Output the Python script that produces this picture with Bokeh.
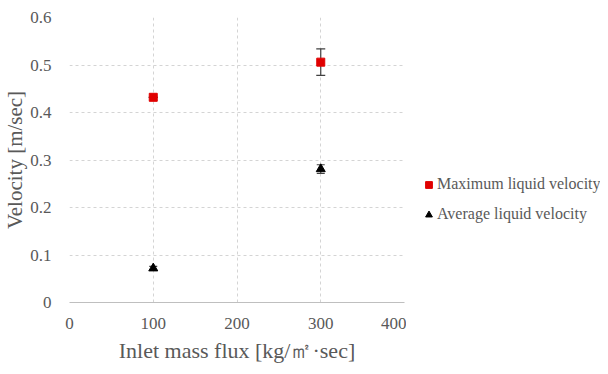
from bokeh.plotting import figure
from bokeh.layouts import row
from bokeh.models import ColumnDataSource, Whisker, TeeHead, FixedTicker, Legend, LegendItem, Range1d
from bokeh.embed import file_html
from bokeh.resources import INLINE

x_flux = [100, 300]
max_vel = [0.432, 0.506]
max_err = [0.0, 0.028]
avg_vel = [0.072, 0.281]
avg_err = [0.004, 0.009]
x_ticks = [0, 100, 200, 300, 400]
y_ticks = [0, 0.1, 0.2, 0.3, 0.4, 0.5, 0.6]
series_labels = ["Maximum liquid velocity", "Average liquid velocity"]

FONT = "Liberation Serif"
GRAY = "#595959"
RED = "#e00000"

p = figure(width=406, height=366, output_backend="svg", toolbar_location=None,
           x_range=Range1d(0, 400), y_range=Range1d(0, 0.6),
           min_border_left=68, min_border_right=2, min_border_top=17, min_border_bottom=64)
p.outline_line_color = None

src_max = ColumnDataSource(dict(x=x_flux, y=max_vel,
                                lo=[v - e for v, e in zip(max_vel, max_err)],
                                hi=[v + e for v, e in zip(max_vel, max_err)]))
src_avg = ColumnDataSource(dict(x=x_flux, y=avg_vel,
                                lo=[v - e for v, e in zip(avg_vel, avg_err)],
                                hi=[v + e for v, e in zip(avg_vel, avg_err)]))

for src, hs in ((src_max, 9), (src_avg, 8)):
    w = Whisker(source=src, base="x", upper="hi", lower="lo", line_color="#404040", line_width=1.2,
                upper_head=TeeHead(size=hs, line_color="#404040", line_width=1.2),
                lower_head=TeeHead(size=hs, line_color="#404040", line_width=1.2))
    p.add_layout(w)

p.scatter("x", "y", source=src_max, marker="square", size=8, fill_color=RED, line_color=RED)
p.scatter("x", "y", source=src_avg, marker="triangle", size=9, fill_color="black", line_color="black")

p.xaxis.ticker = FixedTicker(ticks=x_ticks)
p.yaxis.ticker = FixedTicker(ticks=y_ticks)
p.yaxis.major_label_overrides = {0: "0"}

for ax in (p.xaxis[0], p.yaxis[0]):
    ax.major_tick_line_color = None
    ax.minor_tick_line_color = None
    ax.major_label_text_font = FONT
    ax.major_label_text_font_size = "17px"
    ax.major_label_text_color = GRAY
    ax.axis_label_text_font = FONT
    ax.axis_label_text_font_style = "normal"
    ax.axis_label_text_color = GRAY

p.xaxis.axis_label_text_font_size = "22px"
p.yaxis.axis_label_text_font_size = "21px"
p.xaxis.axis_line_color = "#bfbfbf"
p.yaxis.axis_line_color = None
p.xaxis.axis_label = "Inlet mass flux [kg/㎡·sec]"
p.yaxis.axis_label = "Velocity [m/sec]"
p.xaxis.major_label_standoff = 9
p.yaxis.major_label_standoff = 12
p.xaxis.axis_label_standoff = 6
p.yaxis.axis_label_standoff = 0

p.xgrid.grid_line_color = "#d4d4d4"
p.ygrid.grid_line_color = "#d4d4d4"
p.xgrid.grid_line_dash = "3 3"
p.ygrid.grid_line_dash = "3 3"

# legend panel (proxy renderers share the data sources but lie outside this panel's ranges)
p2 = figure(width=194, height=366, output_backend="svg", toolbar_location=None,
            x_range=Range1d(0, 1), y_range=Range1d(0, 1),
            min_border=0)
p2.outline_line_color = None
p2.axis.visible = False
p2.grid.visible = False
l1 = p2.scatter("x", "y", source=src_max, marker="square", size=8, fill_color=RED, line_color=RED)
l2 = p2.scatter("x", "y", source=src_avg, marker="triangle", size=8, fill_color="black", line_color="black")

legend = Legend(items=[LegendItem(label=series_labels[0], renderers=[l1]),
                       LegendItem(label=series_labels[1], renderers=[l2])],
                location=(14, 79), background_fill_alpha=0, border_line_color=None,
                label_text_font=FONT, label_text_font_size="16px", label_text_color=GRAY,
                glyph_width=17, glyph_height=17, label_standoff=0, spacing=12, padding=0, margin=0)
p2.add_layout(legend, "center")

open("out.html", "w").write(file_html(row(p, p2), INLINE))
